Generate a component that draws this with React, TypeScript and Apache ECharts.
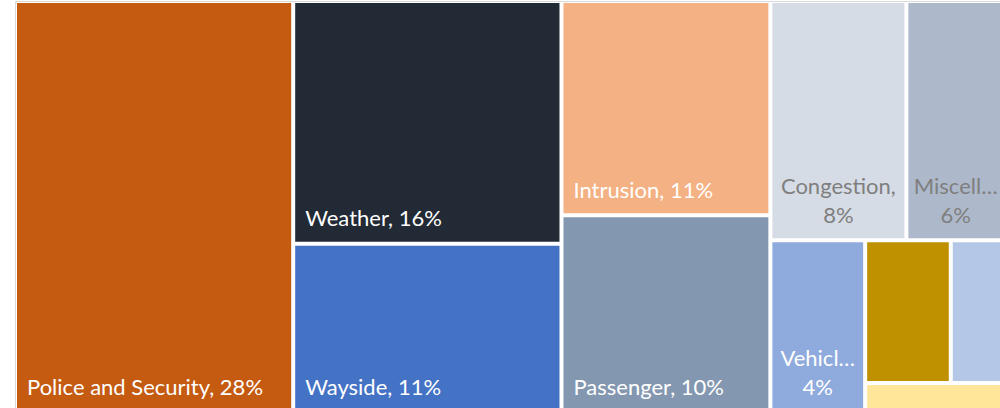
import React, { useEffect, useRef } from "react";
import * as echarts from "echarts";

// ---- data ----
const categories = [
  "Police and Security",
  "Weather",
  "Wayside",
  "Intrusion",
  "Passenger",
  "Congestion",
  "Miscellaneous",
  "Vehicles",
  "Operations",
  "Infrastructure",
  "Other",
];
const values = [28.1, 16.0, 11.1, 11.0, 10.1, 8.0, 5.8, 4.0, 3.0, 1.9, 1.0];
// names as they appear on the tiles (truncated where the tile is narrow)
const shownNames = [
  "Police and Security",
  "Weather",
  "Wayside",
  "Intrusion",
  "Passenger",
  "Congestion",
  "Miscell…",
  "Vehicl…",
  "",
  "",
  "",
];
const colors = [
  "#C55A11",
  "#222A35",
  "#4472C4",
  "#F4B183",
  "#8497B0",
  "#D6DCE5",
  "#ADB9CA",
  "#8FAADC",
  "#BF9000",
  "#B4C7E7",
  "#FFE699",
];
// how the tiles are grouped (indices into the arrays above)
const layoutGroups = [
  [[0, [1, 2]], [3, 4]],
  [[5, 6], [7, [8, 9, 10]]],
];

// ---- styles ----
const FONT = "Lato";
const FONT_SIZE = 22;
const lightText = new Set([5, 6]);
const twoLine = new Set([5, 6, 7]);
const hidden = new Set([8, 9, 10]);

const total = values.reduce((a, b) => a + b, 0);
const pct = (i: number) => Math.round((values[i] / total) * 100) + "%";

function leaf(i: number) {
  const color = lightText.has(i) ? "#7f7f7f" : "#ffffff";
  let label: any;
  if (hidden.has(i)) {
    label = { show: false };
  } else if (twoLine.has(i)) {
    label = {
      show: true,
      position: ["50%", "100%"],
      align: "center",
      verticalAlign: "bottom",
      offset: [0, -9],
      lineHeight: 29,
      padding: 0,
      overflow: "none",
      formatter: () =>
        (shownNames[i].endsWith("…") ? shownNames[i] : shownNames[i] + ",") +
        "\n" +
        pct(i),
    };
  } else {
    label = {
      show: true,
      position: [10, "100%"],
      align: "left",
      verticalAlign: "bottom",
      offset: [0, -13],
      lineHeight: 22,
      padding: 0,
      overflow: "none",
      formatter: () => shownNames[i] + ", " + pct(i),
    };
  }
  return {
    name: categories[i],
    value: values[i],
    itemStyle: { color: colors[i] },
    label: { color, fontFamily: FONT, fontSize: FONT_SIZE, ...label },
  };
}

let gid = 0;
function build(node: any): any {
  if (typeof node === "number") return leaf(node);
  gid += 1;
  return { name: "group" + gid, children: node.map(build) };
}

export default function App() {
  const ref = useRef<HTMLDivElement>(null);
  useEffect(() => {
    if (!ref.current) return;
    const chart = echarts.init(ref.current, null, { renderer: "svg" });
    gid = 0;
    const data = layoutGroups.map(build);
    chart.setOption({
      animation: false,
      graphic: [
        {
          type: "rect",
          shape: { x: 15.5, y: 1.5, width: 1000, height: 420 },
          style: { fill: "none", stroke: "#d9d9d9", lineWidth: 1 },
          silent: true,
        },
      ],
      series: [
        {
          type: "treemap",
          left: 17,
          top: 3,
          width: 986,
          height: 407,
          roam: false,
          nodeClick: false,
          sort: false,
          squareRatio: 1.318,
          breadcrumb: { show: false },
          itemStyle: { borderWidth: 0, gapWidth: 4, borderColor: "#ffffff" },
          upperLabel: { show: false },
          emphasis: { disabled: true },
          data,
        },
      ],
    });
    return () => chart.dispose();
  }, []);
  return (
    <div
      ref={ref}
      style={{ position: "fixed", left: 0, top: 0, width: 1000, height: 408, background: "#fff" }}
    />
  );
}
